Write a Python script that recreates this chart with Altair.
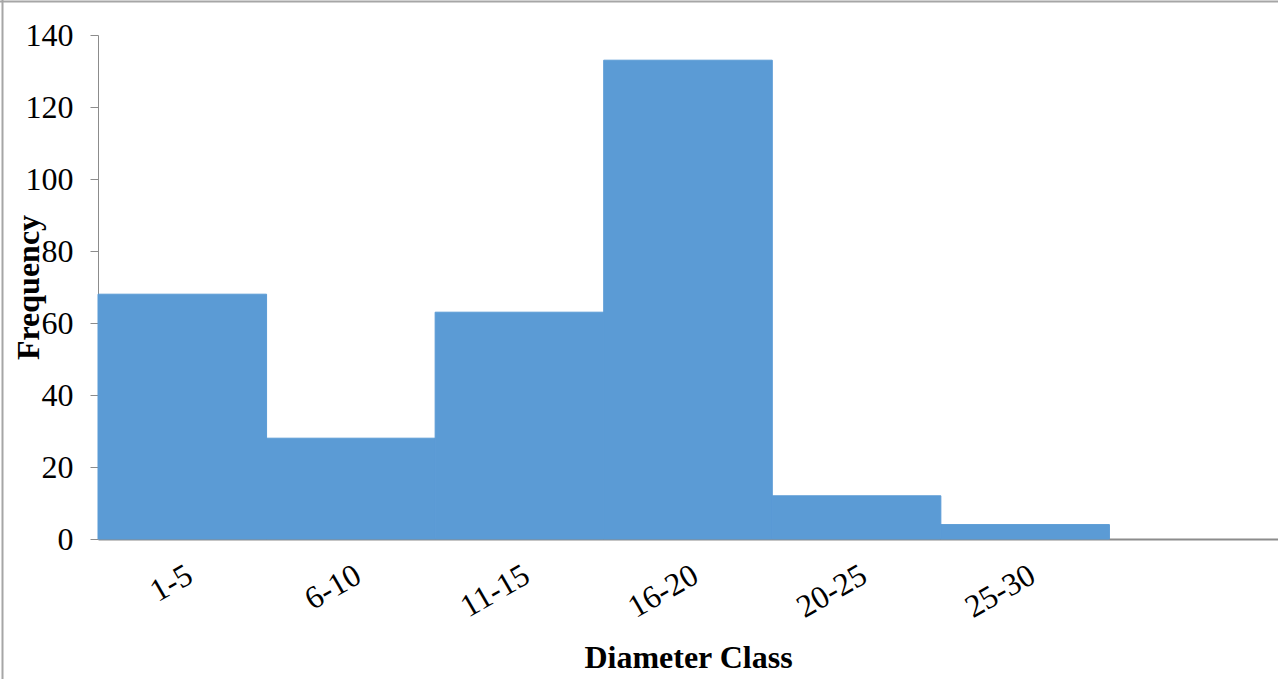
import altair as alt
import pandas as pd

categories = ["1-5", "6-10", "11-15", "16-20", "20-25", "25-30"]
frequency = [68, 28, 63, 133, 12, 4]
axis_domain = categories + [" "]  # Excel left an empty 7th slot on the axis

df = pd.DataFrame({"cls": categories, "freq": frequency})

FONT = "Liberation Serif"
GRAY = "#8c8c8c"

bars = alt.Chart(df).mark_bar(color="#5B9BD5", stroke="#5B9BD5", strokeWidth=1).encode(
    x=alt.X(
        "cls:N",
        sort=axis_domain,
        scale=alt.Scale(domain=axis_domain, paddingInner=0, paddingOuter=0),
        axis=alt.Axis(
            title="Diameter Class",
            titleFont=FONT,
            titleFontSize=32,
            titleFontWeight="bold",
            titleColor="black",
            titleX=590,
            titleY=118,
            titleBaseline="middle",
            labelFont=FONT,
            labelFontSize=32,
            labelColor="black",
            labelAngle=-30,
            labelAlign="right",
            labelBaseline="top",
            labelPadding=20,
            ticks=False,
            domainColor=GRAY,
            domainWidth=2,
            grid=False,
        ),
    ),
    y=alt.Y(
        "freq:Q",
        scale=alt.Scale(domain=[0, 140], nice=False),
        axis=alt.Axis(
            title="Frequency",
            titleFont=FONT,
            titleFontSize=32,
            titleFontWeight="bold",
            titleColor="black",
            titleAngle=-90,
            titleX=-70,
            titleY=252,
            titleAlign="center",
            titleBaseline="middle",
            labelFont=FONT,
            labelFontSize=32,
            labelColor="black",
            labelPadding=17,
            values=[0, 20, 40, 60, 80, 100, 120, 140],
            tickSize=8,
            tickColor=GRAY,
            domainColor=GRAY,
            grid=False,
        ),
    ),
)

frame = pd.DataFrame({"k": [0]})
border_top = alt.Chart(frame).mark_rule(color="#a6a6a6", strokeWidth=2).encode(
    x=alt.value(-98), x2=alt.value(1180), y=alt.value(-33.5)
)
border_left = alt.Chart(frame).mark_rule(color="#a6a6a6", strokeWidth=2).encode(
    x=alt.value(-95.5), y=alt.value(-35), y2=alt.value(644)
)

chart = (
    alt.layer(bars, border_top, border_left)
    .properties(
        width=1180,
        height=504,
        autosize=alt.AutoSizeParams(type="none"),
        padding={"left": 98, "top": 35, "right": 0, "bottom": 140},
        background="white",
    )
    .configure_view(stroke=None)
)

chart.save("out.html", embed_options={"renderer": "svg", "actions": False})
